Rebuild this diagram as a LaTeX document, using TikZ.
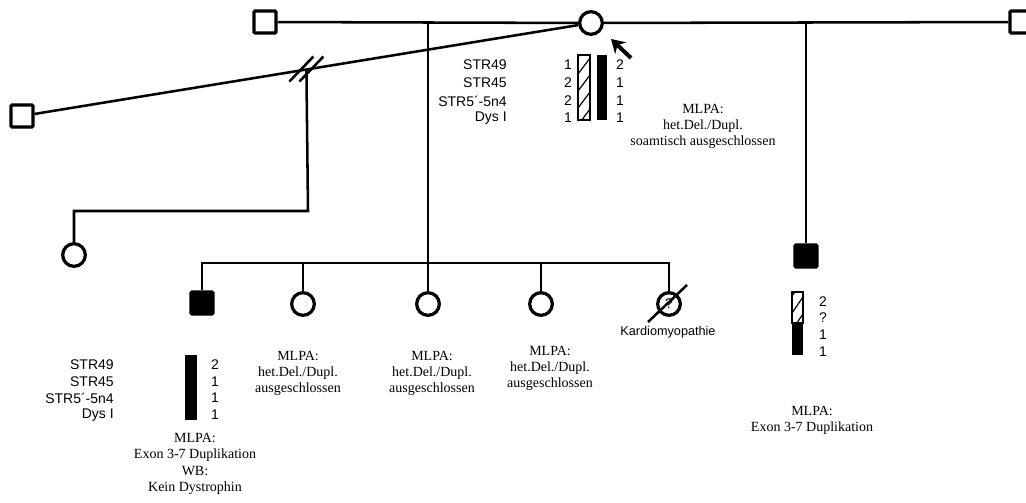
\documentclass[tikz,border=0pt]{standalone}
\usepackage{fontspec}
\setmainfont{Liberation Serif}
\setsansfont{Liberation Sans}
\usetikzlibrary{arrows.meta,calc}

\begin{document}
\begin{tikzpicture}[x=0.75pt,y=-0.75pt,line width=1.9pt,
		male/.style={draw,rectangle,line width=2.4pt,minimum size=16.5pt,inner sep=0pt,rounded corners=0.8pt},
		female/.style={draw,circle,line width=2.4pt,minimum size=17pt,inner sep=0pt},
		aff/.style={fill=black},
		marker/.style={font=\sffamily\fontsize{10.5}{11}\selectfont,inner sep=0pt},
		note/.style={font=\fontsize{10.5}{12}\selectfont,align=center,inner sep=0pt},
		hap/.style={draw,line width=0.9pt}]
	\useasboundingbox (0,0) rectangle (1026,503);
	
	% Parent generation
	\node[male] (gf) at (265,22) {};
	\node[female] (mother) at (591,23) {};
	\node[male] (pf) at (1021,22) {};
	\node[male] (ex) at (22,116) {};
	
	\draw (gf) -- (mother);
	\draw (mother) -- (pf);
	\draw (ex) -- (mother) coordinate[pos=0.5] (brk);
	
	% Separation marks on the former partnership
	\foreach \dx in {-5,5}{
		\draw ([xshift=\dx*0.75pt-12*0.75pt,yshift=-12*0.75pt]brk) -- ([xshift=\dx*0.75pt+12*0.75pt,yshift=13*0.75pt]brk);
	}
	
	% Index person arrow
	\coordinate (arr) at (631,58);
	\draw[line width=3pt,-{Stealth[length=10pt,width=12pt]}] (arr) -- ++(-20,-19);
	
	% Half sister from the first partnership
	\node[female] (hs) at (74,255) {};
	\coordinate (hsup) at (308,211);
	\draw (brk) -- (hsup) -- (hsup -| hs) -- (hs);
	
	% Sibship of the index person
	\coordinate (c1) at ($(gf)!0.5!(mother)$);
	\coordinate (sib) at (c1 |- 0,263);
	\draw (c1) -- (sib);
	\node[male,aff] (s1) at (202,303) {};
	\foreach \n/\x in {d1/303,d2/428,d3/541,d4/669}{
		\node[female] (\n) at (\x,304) {};
	}
	\node[marker] (q) at (d4) {?};
	\draw (s1) -- (s1 |- sib) -- (d4 |- sib) -- (d4);
	\foreach \n in {d1,d2,d3}{
		\draw (\n) -- (\n |- sib);
	}
	\draw ([shift={(-21,18)}]d4.center) -- ([shift={(18,-19)}]d4.center);
	\node[marker,font=\sffamily\fontsize{9.5}{10}\selectfont] (kard) at (668,332) {Kardiomyopathie};
	
	% Son of the second partnership
	\coordinate (c2) at ($(mother)!0.5!(pf)$);
	\node[male,aff] (s2) at (c2 |- 0,256) {};
	\draw (c2) -- (s2);
	
	% Haplotypes of the mother
	\foreach \m/\y/\a/\b in {STR49/65/1/2,STR45/83/2/1,STR5´-5n4/101/2/1,Dys I/118/1/1}{
		\node[marker,anchor=east] (mm\y) at (508,\y) {\m};
		\node[marker] (ma\y) at (568,\y) {\a};
		\node[marker] (mb\y) at (620,\y) {\b};
	}
	\begin{scope}
		\clip (578,55) rectangle (590,120);
		\foreach \k in {2,19,...,100}{
			\draw[line width=0.9pt] (578,55+\k) -- (590,55+\k-16);
		}
	\end{scope}
	\draw[hap] (578,55) rectangle (590,120);
	\fill (597,55) rectangle (607,120);
	\node[note] (mlpa0) at (703,126) {MLPA:\\het.Del./Dupl.\\soamtisch ausgeschlossen};
	
	% Haplotypes of the index person
	\foreach \m/\y/\b in {STR49/365/2,STR45/382/1,STR5´-5n4/398/1,Dys I/415/1}{
		\node[marker,anchor=east] (sm\y) at (115,\y) {\m};
		\node[marker] (sb\y) at (215,\y) {\b};
	}
	\fill (185,355) rectangle (197,420);
	\node[note] (mlpa1) at (195,447) {MLPA:\\Exon 3-7 Duplikation};
	\node[note] (wb1) at (195,480) {WB:\\Kein Dystrophin};
	
	% Results of the sisters
	\foreach \n/\x/\y in {d1/298/373,d2/432/373,d3/550/368}{
		\node[note] (mlpa\n) at (\x,\y) {MLPA:\\het.Del./Dupl.\\ausgeschlossen};
	}
	
	% Haplotypes of the half brother
	\foreach \y/\b in {302/2,318/?,335/1,352/1}{
		\node[marker] (hb\y) at (823,\y) {\b};
	}
	\begin{scope}
		\clip (792,292) rectangle (803,323);
		\foreach \k in {4,21,38}{
			\draw[line width=0.9pt] (792,292+\k) -- (803,292+\k-16);
		}
	\end{scope}
	\draw[hap] (792,292) rectangle (803,323);
	\fill (792,323) rectangle (803,355);
	\node[note] (mlpa2) at (812,420) {MLPA:\\Exon 3-7 Duplikation};
	
\end{tikzpicture}
\end{document}
